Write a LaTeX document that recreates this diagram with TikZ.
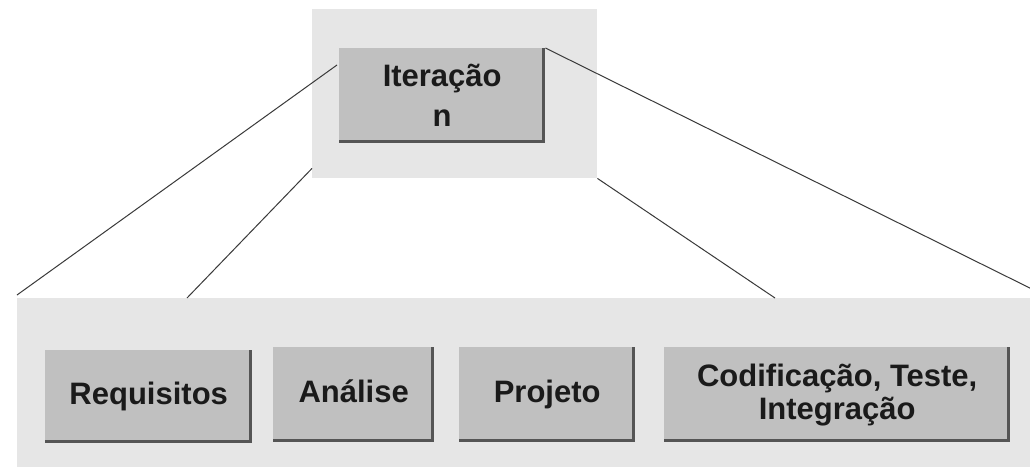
\documentclass[tikz,border=0pt]{standalone}
\usepackage{fontspec}
\setmainfont{Liberation Sans}
\usetikzlibrary{calc}
\definecolor{bglight}{HTML}{E6E6E6}
\definecolor{boxgray}{HTML}{C0C0C0}
\definecolor{shadowgray}{HTML}{555555}
\definecolor{txt}{HTML}{1A1A1A}
\definecolor{linegray}{HTML}{3A3A3A}
\begin{document}
\begin{tikzpicture}[x=1pt,y=-1pt,
  bgbox/.style={fill=bglight, draw=none, inner sep=0pt, anchor=north west},
  phase/.style={fill=boxgray, draw=none, inner sep=0pt, anchor=north west,
    text=txt, align=center, font=\fontsize{31}{33}\selectfont\bfseries},
  oneline/.style={text height=22pt, text depth=7pt},
  shade/.style={draw=shadowgray, line width=3.5pt},
  conn/.style={draw=linegray, line width=1pt}]
\useasboundingbox (0,0) rectangle (1030,466);
\clip (0,0) rectangle (1030,466);
\fill[white] (0,0) rectangle (1030,466);
% backgrounds
\node[bgbox, minimum width=285pt, minimum height=169pt] (topbg) at (312,9) {};
\node[bgbox, minimum width=1060pt, minimum height=200pt] (botbg) at (17,298) {};
% top box
\node[phase, minimum width=206pt, minimum height=95pt,
  font=\fontsize{31}{40}\selectfont\bfseries] (it) at (339,48) {Iteração\\n};
% bottom boxes
\node[phase, oneline, minimum width=207pt, minimum height=93pt] (req) at (45,350) {Requisitos};
\node[phase, oneline, minimum width=161pt, minimum height=95pt] (ana) at (273,347) {Análise};
\node[phase, oneline, minimum width=176pt, minimum height=95pt] (proj) at (459,347) {Projeto};
\node[phase, minimum width=346pt, minimum height=95pt] (cod) at (664,347) {Codificação, Teste,\\Integração};
% shadows
\foreach \b in {it,req,ana,proj,cod}{
  \draw[shade] ($(\b.north east)+(-1.75,0)$) -- ($(\b.south east)+(-1.75,-1.75)$) -- ($(\b.south west)+(0,-1.75)$);
}
% connectors
\draw[conn] ($(it.north west)+(-2,17)$) -- ($(botbg.north west)+(0,-3)$);
\draw[conn] ($(topbg.south west)+(0,-10)$) -- ($(botbg.north west)+(170,0)$);
\draw[conn] (topbg.south east) -- ($(botbg.north west)+(758,0)$);
\draw[conn] (it.north east) -- ($(botbg.north west)+(1033,0)$);
\end{tikzpicture}
\end{document}
